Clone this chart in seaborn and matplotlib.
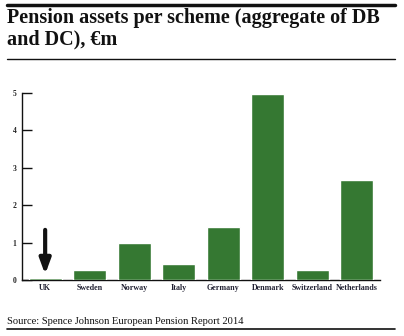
import matplotlib
matplotlib.use("Agg")
import matplotlib.pyplot as plt
from matplotlib.lines import Line2D
import seaborn as sns
import pandas as pd

countries = ["UK", "Sweden", "Norway", "Italy", "Germany", "Denmark",
             "Switzerland", "Netherlands"]
assets_per_scheme = [0.06, 0.27, 1.0, 0.42, 1.41, 4.97, 0.26, 2.67]
y_ticks = [0, 1, 2, 3, 4, 5]

title = "Pension assets per scheme (aggregate of DB\nand DC), €m"
source = "Source: Spence Johnson European Pension Report 2014"

bar_color = "#357832"
serif = ["Liberation Serif", "DejaVu Serif"]

sns.set_style("white")
plt.rcParams["font.family"] = serif

df = pd.DataFrame({"country": countries, "value": assets_per_scheme})

fig = plt.figure(figsize=(4.04, 3.36), dpi=100)
ax = fig.add_axes([22 / 404, 1 - 280 / 336, (380 - 22) / 404, (280 - 93) / 336])

sns.barplot(data=df, x="country", y="value", color=bar_color, saturation=1,
            width=0.74, ax=ax, zorder=3)

ax.set_xlim(-0.52, 7.52)
ax.set_ylim(0, 5)
ax.set_yticks(y_ticks)
ax.set_yticklabels([str(t) for t in y_ticks], fontsize=5.5, fontweight="bold",
                   color="#222222")
ax.set_xticks(range(len(countries)))
ax.set_xticklabels(countries, fontsize=5.8, fontweight="bold", color="#222233")
ax.set_xlabel("")
ax.set_ylabel("")

for side in ["top", "right"]:
    ax.spines[side].set_visible(False)
for side in ["left", "bottom"]:
    ax.spines[side].set_color("#111111")
    ax.spines[side].set_linewidth(1.0)
    ax.spines[side].set_zorder(1)

ax.tick_params(axis="y", direction="in", length=7, width=1.0, color="#111111",
               pad=4, left=True)
ax.tick_params(axis="x", length=0, pad=3)

# Arrow pointing at the UK bar
ax.annotate("", xy=(0, 0.15), xytext=(0, 1.34),
            arrowprops=dict(arrowstyle="-|>,head_length=0.9,head_width=0.33",
                            lw=3, color="#111111", shrinkA=0, shrinkB=0),
            zorder=4)

# Title block and rules
fig.add_artist(Line2D([7 / 404, 395 / 404], [1 - 5 / 336] * 2, lw=2.5,
                      color="#111111"))
fig.text(7 / 404, 1 - 8 / 336, title, ha="left", va="top", fontsize=14.5,
         fontweight="bold", color="#111111", linespacing=1.12)
fig.add_artist(Line2D([7 / 404, 395 / 404], [1 - 59 / 336] * 2, lw=1.0,
                      color="#111111"))

fig.text(7 / 404, 1 - 322 / 336, source, ha="left", va="center", fontsize=7.6,
         color="#111111")
fig.add_artist(Line2D([7 / 404, 395 / 404], [1 - 329 / 336] * 2, lw=1.2,
                      color="#111111"))

fig.savefig("out.png", dpi=100)
